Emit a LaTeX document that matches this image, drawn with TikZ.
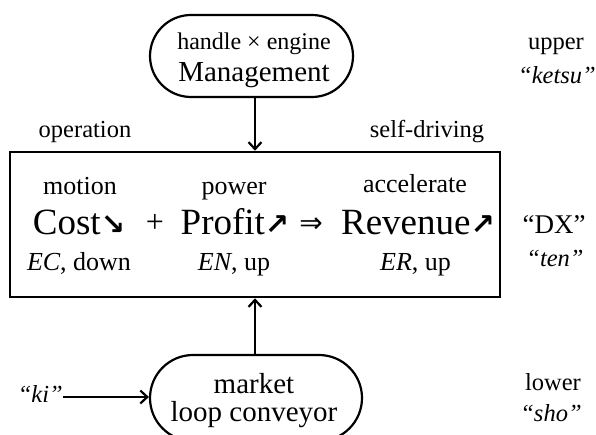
\documentclass[tikz,border=0pt]{standalone}
\usepackage{fontspec}
\setmainfont{Liberation Serif}
\newfontfamily\symfont{DejaVu Sans}
\usetikzlibrary{arrows.meta}
\newcommand{\trenddown}{{\symfont\bfseries\fontsize{29}{32}\selectfont ↘}}
\newcommand{\trendup}{{\symfont\bfseries\fontsize{29}{32}\selectfont ↗}}
\begin{document}
\begin{tikzpicture}[x=1pt,y=-1pt,
  lbl/.style={anchor=base, inner sep=0pt},
  side/.style={lbl, font=\fontsize{24.5}{28}\selectfont},
  inbox/.style={lbl, font=\fontsize{26}{30}\selectfont},
  big/.style={lbl, font=\fontsize{37}{42}\selectfont},
  mid/.style={lbl, font=\fontsize{29}{33}\selectfont},
  pill/.style={draw, line width=2.2pt, inner sep=0pt},
  conn/.style={line width=2.3pt, -{Straight Barb[length=7pt,width=13pt,line width=2.2pt]}}
]
\useasboundingbox (0,0) rectangle (596,435);
\begin{scope}
\clip (0,0) rectangle (596,435);

% management pill
\node[pill, rounded corners=41pt, minimum width=203pt, minimum height=82pt] (top) at (251.5,56) {};
\node[lbl, font=\fontsize{24}{28}\selectfont] (handle) at (254,50) {handle × engine};
\node[mid] (mgmt) at (254,82) {Management};

% market pill, running past the lower edge
\node[pill, rounded corners=43pt, minimum width=212pt, minimum height=86pt] (bot) at (256,398) {};
\node[mid] (market) at (254,393) {market};
\node[mid] (loop) at (254,421) {loop conveyor};

% main box
\node[draw, line width=2.6pt, minimum width=490pt, minimum height=145pt, inner sep=0pt] (main) at (255,224.5) {};

\node[side] (op) at (85,138) {operation};
\node[side] (sd) at (427,138) {self-driving};

\node[inbox] (motion) at (80,195) {motion};
\node[big] (cost) at (79,235) {Cost\trenddown};
\node[inbox] (ec) at (79,271) {\textit{EC}, down};

\node[lbl, font=\fontsize{32}{36}\selectfont] (plus) at (155,233) {+};

\node[inbox] (power) at (234,195) {power};
\node[big] (profit) at (235,235) {Profit\trendup};
\node[inbox] (en) at (234,271) {\textit{EN}, up};

\node[lbl, font=\symfont\fontsize{28}{32}\selectfont] (impl) at (311,233) {⇒};

\node[inbox] (accel) at (415,193) {accelerate};
\node[big] (rev) at (418,235) {Revenue\trendup};
\node[inbox] (er) at (415.5,270) {\textit{ER}, up};

% side captions
\node[side] (upper) at (556,50) {upper};
\node[side, font=\fontsize{24.5}{28}\selectfont\itshape] (ketsu) at (557,84) {“ketsu”};
\node[side, font=\fontsize{27}{30}\selectfont] (dx) at (554,234) {“DX”};
\node[side, font=\fontsize{24.5}{28}\selectfont\itshape] (ten) at (555,266) {“ten”};
\node[side] (lower) at (553,390) {lower};
\node[side, font=\fontsize{24.5}{28}\selectfont\itshape] (sho) at (551,421) {“sho”};
\node[side, font=\fontsize{24.5}{28}\selectfont\itshape, anchor=base east] (ki) at (63,402) {“ki”};

% connectors
\draw[conn] (top.south -| main.north) -- (main.north);
\draw[conn] (bot.north -| main.south) -- (main.south);
\coordinate (kiend) at (63,397);
\draw[conn] (kiend) -- (kiend -| bot.west);
\end{scope}
\end{tikzpicture}
\end{document}
